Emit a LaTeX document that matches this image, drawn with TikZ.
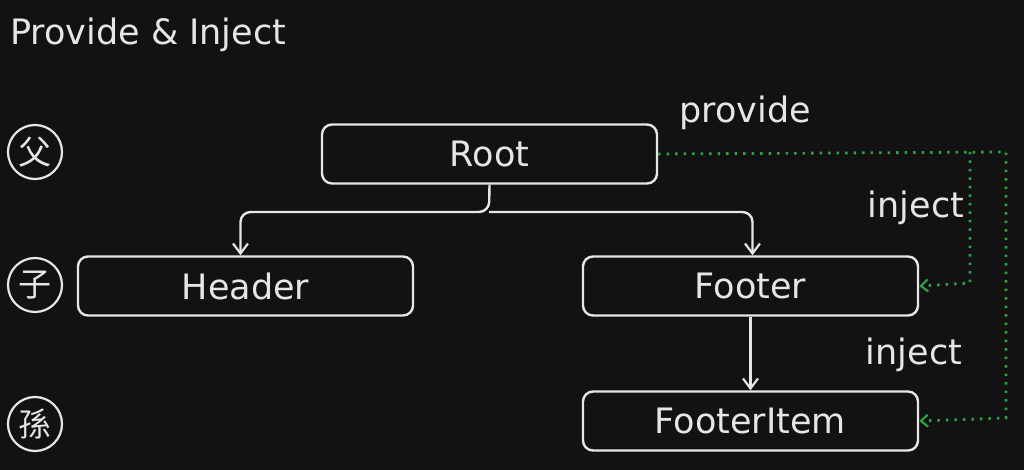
\documentclass[tikz,border=0pt]{standalone}
\usepackage{fontspec}
\setmainfont{DejaVu Sans}
\newfontfamily\cjk{Noto Sans CJK TC}
\usetikzlibrary{arrows.meta}
\definecolor{bg}{HTML}{121212}
\definecolor{ink}{HTML}{E6E6E6}
\definecolor{grn}{HTML}{2F9E44}
\begin{document}
\begin{tikzpicture}[x=1pt,y=-1pt,
  box/.style={draw=ink,line width=2.4pt,rounded corners=10pt,minimum width=335pt,minimum height=59pt,inner sep=0pt,text=ink,font=\fontsize{35}{38}\selectfont},
  lvl/.style={draw=ink,line width=2.2pt,circle,minimum size=54pt,inner sep=0pt,text=ink,font=\cjk\fontsize{33}{36}\selectfont},
  lbl/.style={text=ink,font=\fontsize{35}{38}\selectfont,inner sep=0pt},
  link/.style={draw=ink,line width=2.4pt,-{Straight Barb[length=10pt,width=15pt,line width=2.2pt]}},
  dep/.style={draw=grn,line width=2.8pt,dash pattern=on 2.5pt off 6pt,-{Straight Barb[length=7pt,width=12pt,line width=2.2pt]}}]
\fill[bg] (0,0) rectangle (1024,470);
\useasboundingbox (0,0) rectangle (1024,470);
\node[lbl,anchor=west] (title) at (10,35) {Provide \& Inject};
\node[lvl] (fu) at (35,152) {父};
\node[lvl] (zi) at (35,285) {子};
\node[lvl] (sun) at (35,424) {孫};
\node[box] (root) at (489.5,154) {Root};
\node[box] (header) at (245.5,286) {Header};
\node[box] (footer) at (750.5,286) {Footer};
\node[box] (item) at (750.5,421) {FooterItem};
\coordinate (split) at (489,212);
\draw[link,rounded corners=10pt] (root.south) -- (split) -| ([xshift=-5pt]header.north);
\draw[link,rounded corners=10pt] (split) -| ([xshift=2pt]footer.north);
\draw[link] (footer.south) -- (item.north);
\node[lbl] (prov) at (745,113) {provide};
\node[lbl] (inj1) at (916,208) {inject};
\node[lbl] (inj2) at (914,355) {inject};
\coordinate (tr) at (1006,152);
\coordinate (br) at (1006,418);
\coordinate (mt) at (970,152);
\coordinate (mb) at (970,283);
\draw[dep] (root.east) -- (tr) -- (br) -- (item.east);
\draw[dep] (mt) -- (mb) -- (footer.east);
\end{tikzpicture}
\end{document}
